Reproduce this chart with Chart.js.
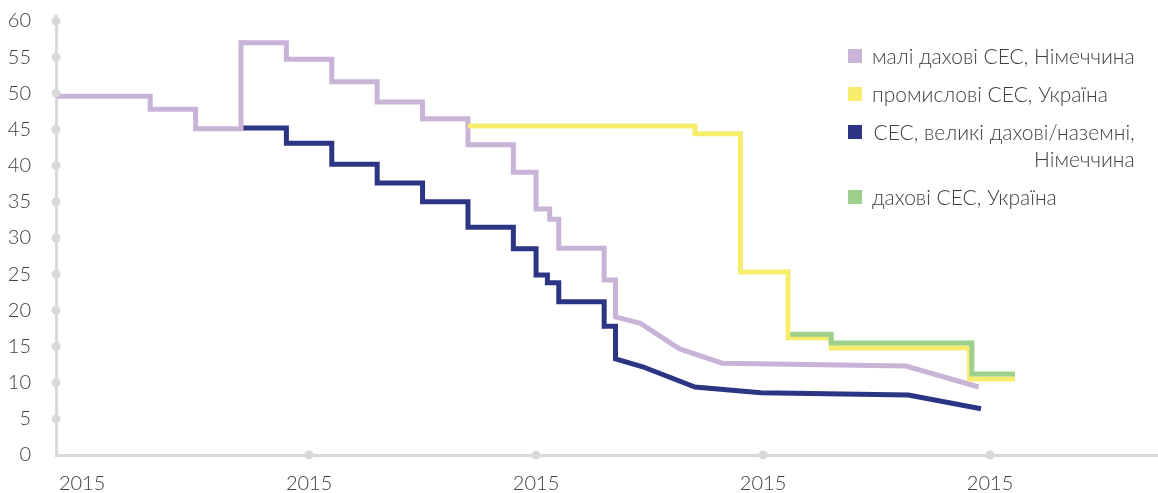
<!DOCTYPE html>
<html>
<head>
<meta charset="utf-8">
<script src="https://cdn.jsdelivr.net/npm/chart.js@4.4.1/dist/chart.umd.min.js"></script>
<style>
  body { margin: 0; background: #fff; }
  #wrap { position: relative; width: 1158px; height: 493px; }
  #legend { position: absolute; left: 848px; top: 42px; font-family: Lato, sans-serif; font-weight: 300; font-size: 21px; color: #404040; white-space: nowrap; }
  .item { position: relative; padding-left: 24px; line-height: 27px; margin-bottom: 11px; }
  .item .sw { position: absolute; left: 0; top: 7px; width: 14px; height: 14px; }
  .item.two { text-align: right; }
</style>
</head>
<body>
<div id="wrap">
  <canvas id="chart" width="1158" height="493"></canvas>
  <div id="legend"></div>
</div>
<script>
// x in tick units: 10 = one labelled step on the axis
var seriesNames = ['малі дахові СЕС, Німеччина', 'промислові СЕС, Україна', 'СЕС, великі дахові/наземні,\nНімеччина', 'дахові СЕС, Україна'];
var seriesColors = ['#c9b4d8', '#f6ed6c', '#2b3584', '#9dd08a'];

var smallRoofDeX = [-1.15, 3, 3, 5, 5, 7, 7, 9, 9, 11, 11, 13, 13, 15, 15, 17, 17, 19, 19, 20, 20, 20.6, 20.6, 21, 21, 23, 23, 23.5, 23.5, 24.6, 26.3, 28.2, 36.3, 39.5];
var smallRoofDeY = [49.6, 49.6, 47.8, 47.8, 45.1, 45.1, 57.0, 57.0, 54.7, 54.7, 51.6, 51.6, 48.8, 48.8, 46.5, 46.5, 42.9, 42.9, 39.1, 39.1, 34.0, 34.0, 32.6, 32.6, 28.6, 28.6, 24.2, 24.2, 19.1, 18.2, 14.7, 12.7, 12.3, 9.4];

var industrialUaX = [17, 27, 27, 29, 29, 31.1, 31.1, 33, 33, 39.1, 39.1, 41.1];
var industrialUaY = [45.5, 45.5, 44.4, 44.4, 25.3, 25.3, 16.2, 16.2, 14.8, 14.8, 10.5, 10.5];

var largeDeX = [7, 9, 9, 11, 11, 13, 13, 15, 15, 17, 17, 19, 19, 20, 20, 20.5, 20.5, 21, 21, 23, 23, 23.5, 23.5, 24.7, 27.0, 29.9, 36.4, 39.6];
var largeDeY = [45.2, 45.2, 43.1, 43.1, 40.2, 40.2, 37.6, 37.6, 35.0, 35.0, 31.5, 31.5, 28.5, 28.5, 24.9, 24.9, 23.8, 23.8, 21.2, 21.2, 17.8, 17.8, 13.3, 12.2, 9.4, 8.6, 8.3, 6.4];

var roofUaX = [31.2, 33, 33, 39.2, 39.2, 41.1];
var roofUaY = [16.7, 16.7, 15.5, 15.5, 11.2, 11.2];

var xTickValues = [0, 10, 20, 30, 40];
var xTickLabels = ['2015', '2015', '2015', '2015', '2015'];
var yTickValues = [0, 5, 10, 15, 20, 25, 30, 35, 40, 45, 50, 55, 60];

function toPoints(xs, ys) {
    return xs.map(function (x, i) { return { x: x, y: ys[i] }; });
}

var allX = [smallRoofDeX, industrialUaX, largeDeX, roofUaX];
var allY = [smallRoofDeY, industrialUaY, largeDeY, roofUaY];
var drawOrder = [2, 1, 3, 0];

var datasets = seriesNames.map(function (name, i) {
    return {
        label: name,
        data: toPoints(allX[i], allY[i]),
        borderColor: seriesColors[i],
        backgroundColor: seriesColors[i],
        borderWidth: 5,
        borderJoinStyle: 'miter',
        borderCapStyle: 'butt',
        pointRadius: 0,
        fill: false,
        tension: 0,
        order: drawOrder[i]
    };
});

// round dots on the axes and a short axis stub above 60
var axisDots = {
    id: 'axisDots',
    afterDraw: function (chart) {
        var ctx = chart.ctx;
        var xs = chart.scales.x, ys = chart.scales.y;
        var left = chart.chartArea.left, bottom = chart.chartArea.bottom;
        ctx.save();
        ctx.strokeStyle = '#d9d9d9';
        ctx.lineWidth = 3;
        ctx.beginPath();
        ctx.moveTo(left, chart.chartArea.top - 6);
        ctx.lineTo(left, chart.chartArea.top);
        ctx.stroke();
        ctx.fillStyle = '#d9d9d9';
        yTickValues.forEach(function (v) {
            if (v === 0) return;
            ctx.beginPath();
            ctx.arc(left, ys.getPixelForValue(v), 4.5, 0, Math.PI * 2);
            ctx.fill();
        });
        xTickValues.forEach(function (v) {
            if (v === 0) return;
            ctx.beginPath();
            ctx.arc(xs.getPixelForValue(v), bottom, 4.5, 0, Math.PI * 2);
            ctx.fill();
        });
        ctx.restore();
    }
};

var tickFont = { family: 'Lato', size: 20, weight: 300 };

new Chart(document.getElementById('chart'), {
    type: 'line',
    data: { datasets: datasets },
    plugins: [axisDots],
    options: {
        responsive: false,
        devicePixelRatio: 1,
        animation: false,
        layout: { padding: { top: 21, right: 0, left: 0, bottom: 0 } },
        plugins: { legend: { display: false }, tooltip: { enabled: false } },
        scales: {
            x: {
                type: 'linear',
                min: -1.15,
                max: 47.4,
                afterBuildTicks: function (scale) {
                    scale.ticks = xTickValues.map(function (v) { return { value: v }; });
                },
                afterFit: function (scale) {
                    scale.height = 38;
                    scale.paddingLeft = 0;
                    scale.paddingRight = 0;
                },
                grid: { display: false, drawTicks: false },
                border: { display: true, color: '#d9d9d9', width: 3 },
                ticks: {
                    autoSkip: false,
                    maxRotation: 0,
                    padding: 17,
                    color: '#404040',
                    font: tickFont,
                    callback: function (value, index) { return xTickLabels[index]; }
                }
            },
            y: {
                min: 0,
                max: 60,
                afterBuildTicks: function (scale) {
                    scale.ticks = yTickValues.map(function (v) { return { value: v }; });
                },
                afterFit: function (scale) {
                    scale.width = 56;
                    scale.paddingTop = 0;
                    scale.paddingBottom = 0;
                },
                grid: { display: false, drawTicks: false },
                border: { display: true, color: '#d9d9d9', width: 3 },
                ticks: {
                    padding: 25,
                    color: '#404040',
                    font: tickFont
                }
            }
        }
    }
});

// legend as html, same order as the series
var legend = document.getElementById('legend');
seriesNames.forEach(function (name, i) {
    var item = document.createElement('div');
    item.className = 'item' + (name.indexOf('\n') >= 0 ? ' two' : '');
    var sw = document.createElement('span');
    sw.className = 'sw';
    sw.style.background = seriesColors[i];
    item.appendChild(sw);
    name.split('\n').forEach(function (line, j) {
        if (j > 0) item.appendChild(document.createElement('br'));
        item.appendChild(document.createTextNode(line));
    });
    legend.appendChild(item);
});
</script>
</body>
</html>
